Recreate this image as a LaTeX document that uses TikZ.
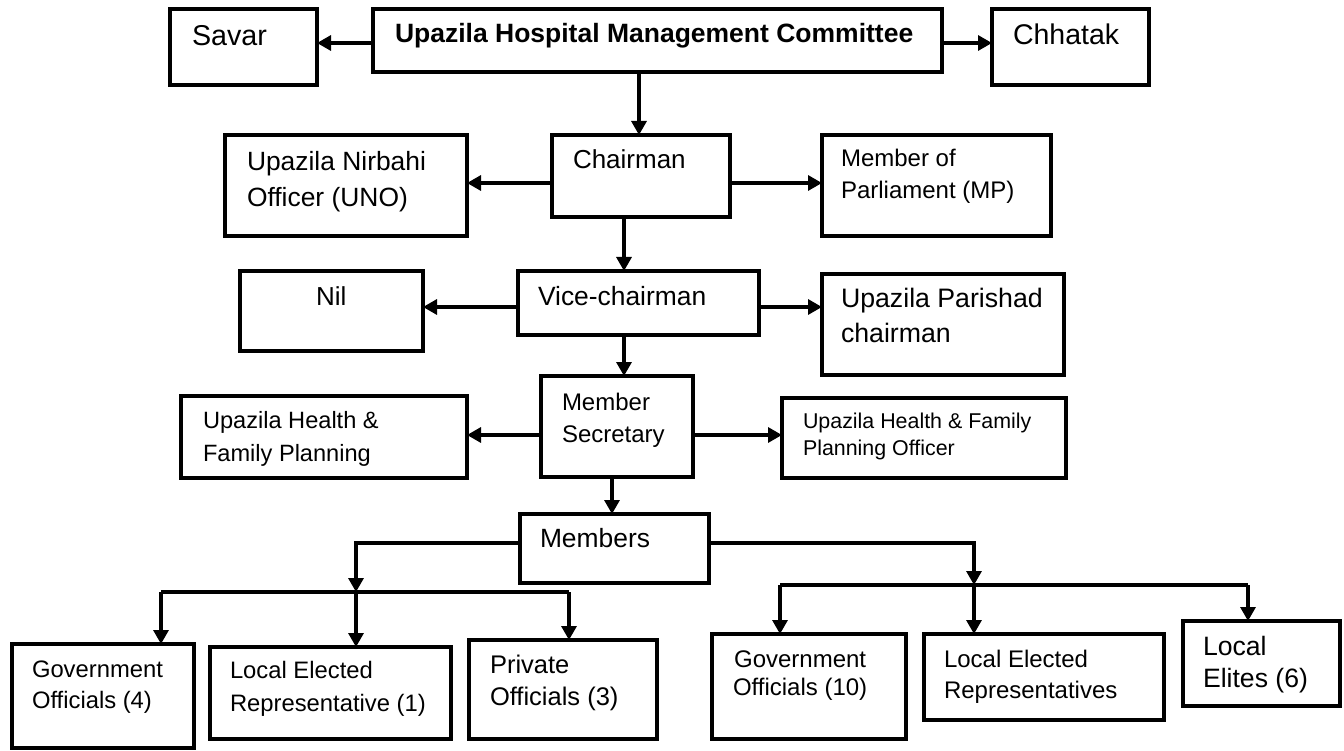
\documentclass[tikz,border=0pt]{standalone}
\usepackage{fontspec}
\setmainfont{Liberation Sans}
\usetikzlibrary{arrows.meta}

% multi-line labels whose reference point is the first baseline
\newcommand\txtblock[1]{\begin{tabular}[t]{@{}l@{}}#1\end{tabular}}
\newcommand\ctrblock[1]{\begin{tabular}[t]{@{}c@{}}#1\end{tabular}}
\newcommand\fs[2]{\fontsize{#1}{#2}\selectfont}
% rectangle given by its corners (x1,y1) (x2,y2)
\newcommand\orgbox[5]{\node[box, minimum width={#4-#2}, minimum height={#5-#3}] (#1) at (#2,#3) {};}

\tikzset{
  box/.style={draw, line width=4pt, inner sep=0pt, outer sep=0pt, anchor=north west},
  arr/.style={line width=3.2pt, -{Triangle[length=14pt,width=15pt]}},
  ln/.style={line width=3.2pt},
  txt/.style={anchor=base west, inner sep=0pt, outer sep=0pt},
}

\begin{document}
\begin{tikzpicture}[x=1pt, y=-1pt]
\useasboundingbox (0,0) rectangle (1344,751);

% ---- boxes ----
\orgbox{savar}{170}{9}{317}{85}
\orgbox{top}{373}{9}{942}{72}
\orgbox{chhatak}{992}{9}{1149}{85}
\orgbox{uno}{225}{135}{467}{236}
\orgbox{chair}{552}{135}{730}{217}
\orgbox{mp}{822}{135}{1051}{236}
\orgbox{nil}{240}{271}{423}{351}
\orgbox{vice}{518}{271}{759}{335}
\orgbox{upc}{822}{274}{1064}{375}
\orgbox{lhf}{181}{396}{467}{478}
\orgbox{msec}{541}{376}{693}{477}
\orgbox{rhf}{782}{398}{1066}{478}
\orgbox{mem}{520}{514}{709}{583}
\orgbox{gfour}{12}{644}{194}{748}
\orgbox{lerone}{210}{647}{451}{739}
\orgbox{priv}{469}{640}{657}{739}
\orgbox{gten}{712}{634}{906}{739}
\orgbox{ler}{924}{634}{1164}{720}
\orgbox{elite}{1183}{621}{1340}{706}

% ---- labels ----
\node[txt, font=\fs{28.7}{34}] (savar-t) at (192,46) {Savar};
\node[txt, font=\bfseries\fs{26.5}{32}] (top-t) at (395,43) {Upazila Hospital Management Committee};
\node[txt, font=\fs{28.5}{34}] (chhatak-t) at (1013,45) {Chhatak};
\node[txt, font=\fs{26.4}{36}] (uno-t) at (247,171) {\txtblock{Upazila Nirbahi\\Officer (UNO)}};
\node[txt, font=\fs{26}{32}] (chair-t) at (573,169) {Chairman};
\node[txt, font=\fs{24}{32}] (mp-t) at (841,167) {\txtblock{Member of\\Parliament (MP)}};
\node[txt, font=\fs{26}{32}] (nil-t) at (316,306) {Nil};
\node[txt, font=\fs{26.4}{32}] (vice-t) at (538,306) {Vice-chairman};
\node[txt, font=\fs{26.7}{35}] (upc-t) at (841,308) {\txtblock{Upazila Parishad\\chairman}};
\node[txt, font=\fs{23.6}{33}] (lhf-t) at (203,428) {\txtblock{Upazila Health \&\\Family Planning}};
\node[txt, font=\fs{24}{32}] (msec-t) at (562,410) {\txtblock{Member\\Secretary}};
\node[txt, font=\fs{21.4}{27}] (rhf-t) at (803,428) {\txtblock{Upazila Health \& Family\\Planning Officer}};
\node[txt, font=\fs{26.4}{32}] (mem-t) at (540,547) {Members};
\node[txt, font=\fs{23.8}{31}] (gfour-t) at (32,677) {\txtblock{Government\\Officials (4)}};
\node[txt, font=\fs{23.8}{33}] (lerone-t) at (230,678) {\txtblock{Local Elected\\Representative (1)}};
\node[txt, font=\fs{25.5}{32}] (priv-t) at (490,673) {\txtblock{Private\\Officials (3)}};
\node[txt, font=\fs{24}{28}] (gten-t) at (733,667) {\ctrblock{Government\\Officials (10)}};
\node[txt, font=\fs{24}{31}] (ler-t) at (944,667) {\txtblock{Local Elected\\Representatives}};
\node[txt, font=\fs{26.6}{32}] (elite-t) at (1203,655) {\txtblock{Local\\Elites (6)}};

% ---- connectors ----
\path ([yshift=-2.5pt]top.west) coordinate (h1);
\draw[arr] (h1) -- (h1 -| savar.east);
\path ([yshift=-2.5pt]top.east) coordinate (h2);
\draw[arr] (h2) -- (h2 -| chhatak.west);
\path ([xshift=-18.5pt]top.south) coordinate (v1);
\draw[arr] (v1) -- (v1 |- chair.north);

\path ([yshift=-7pt]chair.west) coordinate (h3);
\draw[arr] (h3) -- (h3 -| uno.east);
\path ([yshift=-7pt]chair.east) coordinate (h4);
\draw[arr] (h4) -- (h4 -| mp.west);
\path ([xshift=-17pt]chair.south) coordinate (v2);
\draw[arr] (v2) -- (v2 |- vice.north);

\path ([yshift=-4pt]vice.west) coordinate (h5);
\draw[arr] (h5) -- (h5 -| nil.east);
\path ([yshift=-4pt]vice.east) coordinate (h6);
\draw[arr] (h6) -- (h6 -| upc.west);
\path ([xshift=-14.5pt]vice.south) coordinate (v3);
\draw[arr] (v3) -- (v3 |- msec.north);

\path ([yshift=-8.5pt]msec.west) coordinate (h7);
\draw[arr] (h7) -- (h7 -| lhf.east);
\path ([yshift=-8.5pt]msec.east) coordinate (h8);
\draw[arr] (h8) -- (h8 -| rhf.west);
\path ([xshift=-5pt]msec.south) coordinate (v4);
\draw[arr] (v4) -- (v4 |- mem.north);

% left group of members
\coordinate (jl) at (356,592);
\coordinate (lb1) at (161,592);
\coordinate (lb2) at (569,592);
\path ([yshift=5.5pt]mem.west) coordinate (h9);
\draw[arr] (h9) -| (jl);
\draw[ln] (lb1) -- (lb2);
\draw[arr] (lb1) -- (lb1 |- gfour.north);
\draw[arr] (jl) -- (jl |- lerone.north);
\draw[arr] (lb2) -- (lb2 |- priv.north);

% right group of members
\coordinate (jr) at (974,585);
\coordinate (rb1) at (780,585);
\coordinate (rb2) at (1248,585);
\path ([yshift=5.5pt]mem.east) coordinate (h10);
\draw[arr] (h10) -| (jr);
\draw[ln] (rb1) -- (rb2);
\draw[arr] (rb1) -- (rb1 |- gten.north);
\draw[arr] (jr) -- (jr |- ler.north);
\draw[arr] (rb2) -- (rb2 |- elite.north);
\end{tikzpicture}
\end{document}
